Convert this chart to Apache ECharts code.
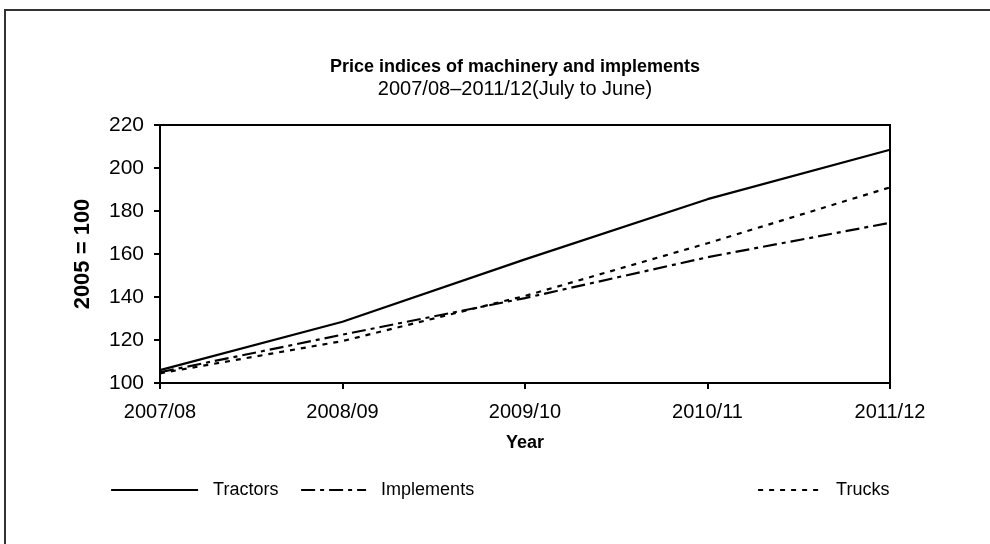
<!DOCTYPE html>
<html><head><meta charset="utf-8">
<script src="https://cdn.jsdelivr.net/npm/echarts@6/dist/echarts.min.js"></script>
<style>html,body{margin:0;padding:0;background:#fff}#c{width:990px;height:544px}</style>
</head><body><div id="c"></div>
<script>
const categories = ['2007/08','2008/09','2009/10','2010/11','2011/12'];
const tractors = [106, 128.5, 157.5, 185.5, 208.5];
const implementsVals = [105, 122.5, 139.5, 158.5, 174.5];
const trucks = [104.5, 119.5, 140.5, 165, 191];
const yTicks = {min: 100, max: 220, interval: 20};

const font = 'Liberation Sans, Arial, sans-serif';
const chart = echarts.init(document.getElementById('c'), null, {renderer: 'canvas'});
function lg(name, left, w) {
  return {
    data: [name], left: left, top: 476, itemWidth: w, itemHeight: 14, itemGap: 0,
    itemStyle: {color: 'rgba(0,0,0,0)', borderWidth: 0, opacity: 0},
    lineStyle: {width: 2.2},
    textStyle: {fontFamily: font, fontSize: 18, color: '#000', padding: [0, 0, 0, 10]}
  };
}
chart.setOption({
  animation: false,
  backgroundColor: '#fff',
  graphic: [{type: 'rect', shape: {x: 5, y: 10, width: 1000, height: 600}, style: {fill: 'none', stroke: '#333', lineWidth: 2}, silent: true}],
  title: {
    text: 'Price indices of machinery and implements',
    subtext: '2007/08–2011/12(July to June)',
    left: 510, textAlign: 'center', top: 53, itemGap: 3,
    textStyle: {fontFamily: font, fontSize: 18, fontWeight: 'bold', color: '#000'},
    subtextStyle: {fontFamily: font, fontSize: 20, color: '#000'}
  },
  grid: {left: 160, right: 100, top: 125, bottom: 161, show: true, borderColor: '#000', borderWidth: 2, containLabel: false},
  legend: [lg('Tractors', 105, 87), lg('Implements', 295, 65), lg('Trucks', 752, 63)],
  xAxis: {
    type: 'category', data: categories, boundaryGap: false,
    name: 'Year', nameLocation: 'middle', nameGap: 51,
    nameTextStyle: {fontFamily: font, fontSize: 18, fontWeight: 'bold', color: '#000'},
    axisLine: {lineStyle: {color: '#000', width: 2}},
    axisTick: {show: true, inside: false, length: 6, lineStyle: {color: '#000', width: 2}},
    axisLabel: {fontFamily: font, fontSize: 20, color: '#000', margin: 19},
    splitLine: {show: false}
  },
  yAxis: {
    type: 'value', min: yTicks.min, max: yTicks.max, interval: yTicks.interval,
    name: '2005 = 100', nameLocation: 'middle', nameGap: 66, nameRotate: 90,
    nameTextStyle: {fontFamily: font, fontSize: 22, fontWeight: 'bold', color: '#000'},
    axisLine: {show: true, lineStyle: {color: '#000', width: 2}},
    axisTick: {show: true, inside: false, length: 6, lineStyle: {color: '#000', width: 2}},
    axisLabel: {fontFamily: font, fontSize: 21, color: '#000', margin: 16},
    splitLine: {show: false}
  },
  series: [
    {name: 'Tractors', type: 'line', data: tractors, symbol: 'none', lineStyle: {color: '#000', width: 2.2, type: 'solid'}, itemStyle: {color: '#000'}},
    {name: 'Implements', type: 'line', data: implementsVals, symbol: 'none', lineStyle: {color: '#000', width: 2.2, type: [14, 5, 4, 5]}, itemStyle: {color: '#000'}},
    {name: 'Trucks', type: 'line', data: trucks, symbol: 'none', lineStyle: {color: '#000', width: 2.2, type: [5, 6]}, itemStyle: {color: '#000'}}
  ]
});
</script></body></html>
